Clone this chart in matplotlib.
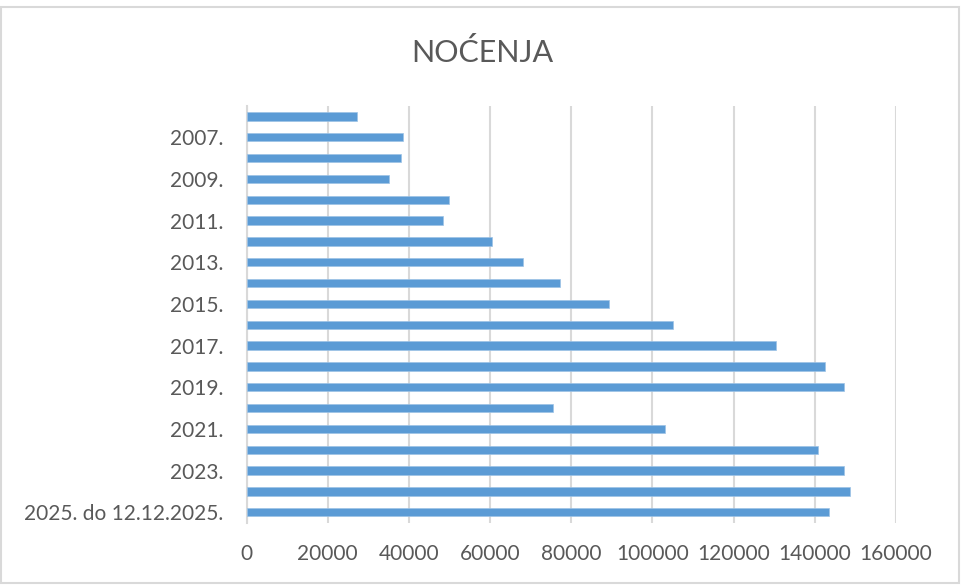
import matplotlib
matplotlib.use("Agg")
import matplotlib.pyplot as plt
from matplotlib.patches import Rectangle

plt.rcParams['font.family'] = ['Lato', 'DejaVu Sans']

categories = ["2006.", "2007.", "2008.", "2009.", "2010.", "2011.", "2012.", "2013.",
              "2014.", "2015.", "2016.", "2017.", "2018.", "2019.", "2020.", "2021.",
              "2022.", "2023.", "2024.", "2025. do 12.12.2025."]
values = [27100, 38450, 38100, 35000, 49800, 48500, 60600, 68100,
          77300, 89200, 105000, 130500, 142500, 147300, 75400, 103100,
          140900, 147300, 148600, 143500]
x_ticks = [0, 20000, 40000, 60000, 80000, 100000, 120000, 140000, 160000]
title = "NOĆENJA"

text_color = "#595959"
grid_color = "#D9D9D9"
bar_color = "#5B9BD5"

fig = plt.figure(figsize=(9.63, 5.86), dpi=100)
ax = fig.add_axes([246.5/963, 1 - 522.7/586, (896 - 246.5)/963, (522.7 - 106)/586])

ypos = list(range(len(categories)))
ax.barh(ypos, values, height=0.4, color=bar_color, edgecolor="#9DC3E6", linewidth=0.5, zorder=3)
ax.set_ylim(len(categories) - 0.5, -0.5)
ax.set_xlim(0, 160000)

shown = [i for i in ypos if i % 2 == 1]
ax.set_yticks(shown)
ax.set_yticklabels([categories[i] for i in shown])
ax.set_xticks(x_ticks)
ax.set_xticklabels([str(t) for t in x_ticks])
ax.tick_params(axis='both', length=0, colors=text_color, labelsize=15)
ax.tick_params(axis='x', pad=15)
ax.tick_params(axis='y', pad=17)

ax.grid(axis='x', color=grid_color, linewidth=1.5, zorder=0)
for s in ["top", "right", "bottom"]:
    ax.spines[s].set_visible(False)
ax.spines["left"].set_color(grid_color)
ax.spines["left"].set_linewidth(1.5)

fig.text(482/963, 1 - 53/586, title, ha='center', va='center', fontsize=22,
         fontweight='normal', color=text_color)

fig.patches.append(Rectangle((1/963, 1 - 583/586), 958/963, (583 - 6.5)/586,
                             transform=fig.transFigure, fill=False, edgecolor=grid_color, linewidth=1.5))

fig.savefig("out.png", dpi=100)
